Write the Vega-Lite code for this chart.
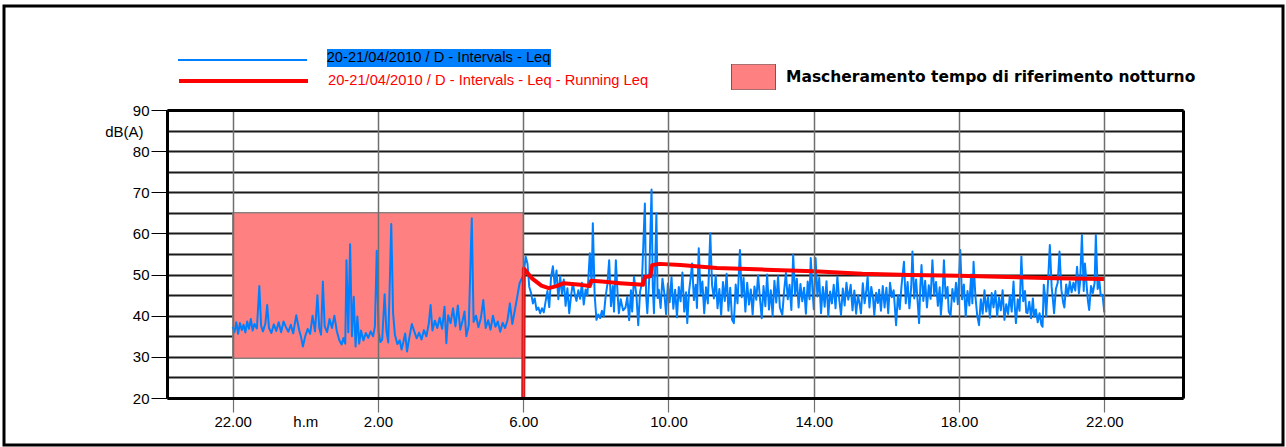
{
  "$schema": "https://vega.github.io/schema/vega-lite/v6.json",
  "width": 1279,
  "height": 439,
  "autosize": {"type": "none"},
  "padding": {"left": 4, "top": 6, "right": 3, "bottom": 2},
  "background": "white",
  "config": {
    "view": {"stroke": "black", "strokeWidth": 3, "fill": "white"},
    "font": "Liberation Sans",
    "axis": {"labelFont": "Liberation Sans", "labelFontSize": 15, "labelColor": "black", "labelFlush": false, "labelOverlap": false, "labelBound": false, "titleFont": "Liberation Sans"},
    "legend": {"padding": 0, "labelLimit": 0, "titleLimit": 0}
  },
  "datasets": {
    "mask": [{"zona": "Mascheramento tempo di riferimento notturno", "t0": 0, "t1": 480, "v0": 29.7, "v1": 65}],
    "pk": [{"k1": "b", "k2": "20-21/04/2010 / D - Intervals - Leq - Running Leq", "k3": "20-21/04/2010 / D - Intervals - Leq", "t": 0, "v": 20}],
    "run": [
      {"t": 480, "v": 20}, {"t": 481, "v": 51.5}, {"t": 495, "v": 49.0}, {"t": 510, "v": 47.3}, {"t": 522, "v": 46.7},
      {"t": 535, "v": 47.2}, {"t": 547, "v": 47.9}, {"t": 560, "v": 47.7}, {"t": 575, "v": 47.5}, {"t": 590, "v": 47.2},
      {"t": 592, "v": 48.5}, {"t": 610, "v": 48.3}, {"t": 640, "v": 47.9}, {"t": 678, "v": 47.5}, {"t": 681, "v": 49.4},
      {"t": 690, "v": 49.6}, {"t": 693, "v": 52.3}, {"t": 705, "v": 52.6}, {"t": 740, "v": 52.3}, {"t": 800, "v": 51.6},
      {"t": 880, "v": 51.2}, {"t": 960, "v": 50.8}, {"t": 1040, "v": 50.2}, {"t": 1120, "v": 49.9}, {"t": 1200, "v": 49.7},
      {"t": 1280, "v": 49.4}, {"t": 1360, "v": 49.1}, {"t": 1440, "v": 48.9}
    ],
    "leq": [
      {"t":0,"v":37.3},{"t":3,"v":36.0},{"t":6,"v":38.4},{"t":9,"v":35.6},{"t":12,"v":38.2},{"t":15,"v":36.5},{"t":18,"v":37.8},{"t":21,"v":35.9},{"t":24,"v":38.6},{"t":27,"v":36.8},
      {"t":30,"v":39.2},{"t":33,"v":36.4},{"t":36,"v":38.0},{"t":40,"v":36.9},{"t":44,"v":47.2},{"t":47,"v":37.5},{"t":50,"v":36.2},{"t":54,"v":38.1},{"t":57,"v":42.6},{"t":60,"v":37.0},
      {"t":64,"v":35.8},{"t":68,"v":37.9},{"t":72,"v":36.3},{"t":76,"v":38.4},{"t":80,"v":36.0},{"t":84,"v":38.6},{"t":88,"v":37.2},{"t":92,"v":36.1},{"t":96,"v":37.8},{"t":100,"v":35.7},
      {"t":105,"v":40.1},{"t":110,"v":36.4},{"t":113,"v":34.8},{"t":116,"v":32.5},{"t":120,"v":35.1},{"t":124,"v":36.8},{"t":128,"v":35.6},{"t":132,"v":40.0},{"t":136,"v":36.2},{"t":140,"v":45.0},
      {"t":143,"v":37.1},{"t":146,"v":35.4},{"t":149,"v":48.3},{"t":152,"v":37.4},{"t":156,"v":36.0},{"t":160,"v":39.2},{"t":164,"v":37.0},{"t":168,"v":40.0},{"t":172,"v":36.3},{"t":176,"v":34.1},
      {"t":180,"v":33.0},{"t":183,"v":34.6},{"t":186,"v":33.2},{"t":188,"v":53.5},{"t":191,"v":36.0},{"t":194,"v":57.4},{"t":197,"v":35.0},{"t":200,"v":44.6},{"t":203,"v":32.5},{"t":206,"v":39.8},
      {"t":209,"v":33.2},{"t":212,"v":36.4},{"t":216,"v":34.0},{"t":220,"v":35.8},{"t":224,"v":34.6},{"t":228,"v":36.2},{"t":232,"v":35.0},{"t":235,"v":37.4},{"t":238,"v":55.8},{"t":241,"v":36.1},
      {"t":244,"v":33.6},{"t":247,"v":34.2},{"t":251,"v":45.2},{"t":254,"v":36.3},{"t":257,"v":33.5},{"t":262,"v":62.3},{"t":265,"v":40.6},{"t":268,"v":35.4},{"t":272,"v":33.1},{"t":276,"v":34.0},
      {"t":279,"v":31.8},{"t":282,"v":33.6},{"t":285,"v":35.7},{"t":288,"v":31.3},{"t":292,"v":34.8},{"t":296,"v":38.0},{"t":300,"v":36.2},{"t":304,"v":34.5},{"t":308,"v":35.9},{"t":312,"v":34.2},
      {"t":316,"v":36.5},{"t":320,"v":35.0},{"t":324,"v":38.1},{"t":327,"v":42.6},{"t":330,"v":36.4},{"t":334,"v":38.8},{"t":338,"v":37.0},{"t":342,"v":39.5},{"t":346,"v":36.8},{"t":350,"v":42.2},
      {"t":353,"v":33.3},{"t":356,"v":40.1},{"t":360,"v":38.2},{"t":364,"v":41.8},{"t":368,"v":37.4},{"t":372,"v":42.5},{"t":376,"v":36.6},{"t":380,"v":38.9},{"t":383,"v":41.0},{"t":386,"v":35.0},
      {"t":390,"v":37.6},{"t":395,"v":63.7},{"t":398,"v":38.5},{"t":402,"v":40.0},{"t":406,"v":37.2},{"t":410,"v":39.4},{"t":414,"v":43.8},{"t":418,"v":37.0},{"t":422,"v":38.9},{"t":426,"v":36.6},
      {"t":430,"v":40.0},{"t":434,"v":37.3},{"t":438,"v":38.6},{"t":442,"v":36.1},{"t":446,"v":38.3},{"t":450,"v":37.0},{"t":454,"v":38.9},{"t":458,"v":43.0},{"t":462,"v":38.0},{"t":466,"v":41.2},
      {"t":470,"v":44.5},{"t":474,"v":47.9},{"t":479,"v":49.5},{"t":481,"v":50.3},{"t":484,"v":54.4},{"t":487,"v":52.7},{"t":490,"v":47.0},{"t":493,"v":45.5},{"t":496,"v":43.0},{"t":499,"v":44.2},
      {"t":502,"v":41.4},{"t":505,"v":42.0},{"t":508,"v":40.6},{"t":511,"v":41.8},{"t":514,"v":40.8},{"t":517,"v":43.5},{"t":520,"v":46.0},{"t":523,"v":42.1},{"t":526,"v":49.4},{"t":529,"v":52.0},
      {"t":532,"v":47.5},{"t":535,"v":51.0},{"t":538,"v":44.0},{"t":541,"v":49.6},{"t":544,"v":45.2},{"t":547,"v":48.8},{"t":550,"v":42.4},{"t":553,"v":46.7},{"t":556,"v":40.6},{"t":559,"v":44.8},
      {"t":562,"v":47.9},{"t":565,"v":45.3},{"t":568,"v":43.6},{"t":571,"v":46.2},{"t":574,"v":44.1},{"t":577,"v":48.0},{"t":580,"v":42.7},{"t":583,"v":46.4},{"t":586,"v":44.9},{"t":590,"v":55.2},
      {"t":593,"v":47.6},{"t":595,"v":62.5},{"t":598,"v":45.0},{"t":601,"v":39.0},{"t":604,"v":40.3},{"t":607,"v":39.4},{"t":610,"v":41.2},{"t":613,"v":39.8},{"t":616,"v":44.5},{"t":619,"v":47.6},
      {"t":622,"v":53.5},{"t":625,"v":42.3},{"t":628,"v":47.2},{"t":630,"v":41.0},{"t":633,"v":53.5},{"t":636,"v":45.1},{"t":638,"v":40.6},{"t":641,"v":44.0},{"t":645,"v":41.3},{"t":649,"v":42.0},
      {"t":652,"v":44.6},{"t":655,"v":38.9},{"t":658,"v":46.2},{"t":660,"v":41.0},{"t":663,"v":49.5},{"t":667,"v":45.0},{"t":670,"v":37.7},{"t":673,"v":45.8},{"t":676,"v":47.9},{"t":681,"v":67.3},
      {"t":683,"v":45.0},{"t":685,"v":40.6},{"t":688,"v":48.5},{"t":692,"v":70.7},{"t":694,"v":47.2},{"t":696,"v":40.6},{"t":698,"v":52.0},{"t":700,"v":64.9},{"t":702,"v":44.3},{"t":704,"v":46.3},
      {"t":707,"v":41.9},{"t":710,"v":49.0},{"t":713,"v":45.6},{"t":716,"v":40.4},{"t":719,"v":47.8},{"t":722,"v":43.3},{"t":725,"v":49.4},{"t":728,"v":41.7},{"t":731,"v":46.3},{"t":734,"v":39.6},
      {"t":737,"v":47.0},{"t":740,"v":43.5},{"t":743,"v":50.5},{"t":746,"v":41.0},{"t":749,"v":45.7},{"t":751,"v":38.2},{"t":754,"v":46.0},{"t":757,"v":49.6},{"t":759,"v":52.7},{"t":762,"v":43.8},
      {"t":765,"v":47.5},{"t":767,"v":41.9},{"t":770,"v":56.4},{"t":773,"v":45.2},{"t":776,"v":48.3},{"t":779,"v":40.6},{"t":782,"v":46.9},{"t":785,"v":43.0},{"t":789,"v":60.0},{"t":792,"v":47.4},
      {"t":795,"v":44.2},{"t":798,"v":49.8},{"t":801,"v":41.8},{"t":804,"v":46.5},{"t":807,"v":40.2},{"t":810,"v":48.2},{"t":813,"v":43.6},{"t":816,"v":50.2},{"t":819,"v":41.2},{"t":822,"v":46.8},
      {"t":825,"v":39.0},{"t":828,"v":38.2},{"t":831,"v":47.6},{"t":834,"v":43.0},{"t":838,"v":56.0},{"t":841,"v":44.5},{"t":844,"v":49.2},{"t":847,"v":41.0},{"t":850,"v":48.0},{"t":853,"v":42.7},
      {"t":856,"v":46.4},{"t":859,"v":40.3},{"t":862,"v":47.1},{"t":865,"v":43.9},{"t":868,"v":49.8},{"t":871,"v":44.4},{"t":874,"v":39.4},{"t":877,"v":47.2},{"t":880,"v":42.3},{"t":883,"v":50.0},
      {"t":886,"v":41.5},{"t":889,"v":46.2},{"t":892,"v":40.0},{"t":895,"v":48.5},{"t":898,"v":43.2},{"t":901,"v":49.6},{"t":904,"v":42.0},{"t":908,"v":40.2},{"t":911,"v":46.0},{"t":914,"v":50.4},
      {"t":917,"v":44.0},{"t":920,"v":47.5},{"t":923,"v":41.4},{"t":926,"v":54.8},{"t":929,"v":45.0},{"t":932,"v":49.0},{"t":935,"v":42.0},{"t":938,"v":47.7},{"t":941,"v":43.5},{"t":944,"v":46.8},
      {"t":947,"v":40.5},{"t":950,"v":48.3},{"t":953,"v":44.0},{"t":955,"v":54.0},{"t":958,"v":46.1},{"t":960,"v":41.6},{"t":963,"v":54.0},{"t":966,"v":44.7},{"t":969,"v":49.2},{"t":972,"v":40.6},
      {"t":975,"v":47.0},{"t":978,"v":42.2},{"t":981,"v":48.4},{"t":984,"v":40.0},{"t":987,"v":45.9},{"t":990,"v":43.0},{"t":993,"v":47.5},{"t":996,"v":41.8},{"t":999,"v":49.5},{"t":1002,"v":44.0},
      {"t":1005,"v":40.2},{"t":1008,"v":46.6},{"t":1011,"v":42.5},{"t":1014,"v":48.0},{"t":1017,"v":43.9},{"t":1021,"v":47.5},{"t":1024,"v":41.3},{"t":1027,"v":46.1},{"t":1030,"v":40.5},{"t":1033,"v":45.0},
      {"t":1036,"v":42.6},{"t":1038,"v":40.6},{"t":1041,"v":47.9},{"t":1044,"v":43.0},{"t":1047,"v":46.4},{"t":1049,"v":49.5},{"t":1052,"v":42.0},{"t":1055,"v":47.0},{"t":1058,"v":44.2},{"t":1060,"v":40.2},
      {"t":1063,"v":45.6},{"t":1066,"v":43.1},{"t":1068,"v":46.3},{"t":1071,"v":41.2},{"t":1074,"v":47.2},{"t":1077,"v":42.0},{"t":1080,"v":46.8},{"t":1083,"v":40.6},{"t":1086,"v":48.0},{"t":1089,"v":44.5},
      {"t":1092,"v":46.2},{"t":1096,"v":37.7},{"t":1099,"v":45.0},{"t":1102,"v":41.6},{"t":1105,"v":47.3},{"t":1109,"v":53.1},{"t":1112,"v":43.0},{"t":1115,"v":48.2},{"t":1118,"v":41.8},{"t":1121,"v":47.0},
      {"t":1123,"v":55.6},{"t":1126,"v":44.2},{"t":1129,"v":48.8},{"t":1132,"v":42.6},{"t":1134,"v":38.2},{"t":1136,"v":47.0},{"t":1138,"v":52.3},{"t":1141,"v":43.6},{"t":1144,"v":48.5},{"t":1147,"v":42.0},
      {"t":1150,"v":47.4},{"t":1153,"v":44.1},{"t":1156,"v":53.5},{"t":1159,"v":45.0},{"t":1162,"v":48.2},{"t":1165,"v":42.4},{"t":1168,"v":46.9},{"t":1170,"v":40.2},{"t":1173,"v":46.0},{"t":1175,"v":53.5},
      {"t":1178,"v":44.2},{"t":1181,"v":47.0},{"t":1183,"v":41.0},{"t":1186,"v":40.0},{"t":1189,"v":46.5},{"t":1192,"v":43.4},{"t":1195,"v":48.0},{"t":1198,"v":42.8},{"t":1202,"v":56.0},{"t":1205,"v":44.0},
      {"t":1208,"v":47.6},{"t":1211,"v":39.8},{"t":1214,"v":46.0},{"t":1217,"v":42.5},{"t":1220,"v":50.0},{"t":1222,"v":43.0},{"t":1224,"v":53.1},{"t":1227,"v":44.8},{"t":1230,"v":40.1},{"t":1233,"v":37.7},
      {"t":1236,"v":44.0},{"t":1239,"v":40.5},{"t":1242,"v":46.2},{"t":1245,"v":41.0},{"t":1248,"v":44.6},{"t":1251,"v":39.5},{"t":1254,"v":45.5},{"t":1257,"v":42.0},{"t":1260,"v":46.0},{"t":1263,"v":39.9},
      {"t":1266,"v":44.4},{"t":1269,"v":41.3},{"t":1272,"v":46.2},{"t":1275,"v":39.0},{"t":1278,"v":42.8},{"t":1281,"v":40.4},{"t":1284,"v":45.0},{"t":1287,"v":41.0},{"t":1290,"v":48.3},{"t":1292,"v":42.4},
      {"t":1294,"v":38.2},{"t":1297,"v":44.0},{"t":1300,"v":41.2},{"t":1303,"v":54.4},{"t":1306,"v":43.5},{"t":1309,"v":46.0},{"t":1311,"v":40.8},{"t":1313,"v":40.6},{"t":1316,"v":43.4},{"t":1319,"v":39.4},
      {"t":1322,"v":44.2},{"t":1324,"v":39.8},{"t":1327,"v":41.5},{"t":1330,"v":38.4},{"t":1333,"v":40.6},{"t":1336,"v":37.8},{"t":1338,"v":37.3},{"t":1340,"v":47.5},{"t":1342,"v":45.0},{"t":1344,"v":39.9},
      {"t":1347,"v":48.2},{"t":1350,"v":57.2},{"t":1353,"v":47.0},{"t":1355,"v":44.0},{"t":1357,"v":40.6},{"t":1360,"v":46.5},{"t":1363,"v":48.0},{"t":1366,"v":55.6},{"t":1369,"v":46.4},{"t":1372,"v":43.2},
      {"t":1374,"v":42.0},{"t":1377,"v":47.6},{"t":1380,"v":44.9},{"t":1383,"v":48.3},{"t":1386,"v":45.7},{"t":1389,"v":48.0},{"t":1392,"v":46.1},{"t":1395,"v":51.9},{"t":1398,"v":45.4},{"t":1400,"v":48.2},
      {"t":1403,"v":59.6},{"t":1406,"v":46.0},{"t":1408,"v":52.7},{"t":1411,"v":47.0},{"t":1413,"v":43.5},{"t":1415,"v":41.4},{"t":1418,"v":47.2},{"t":1421,"v":45.5},{"t":1424,"v":48.0},{"t":1426,"v":59.6},
      {"t":1429,"v":46.5},{"t":1432,"v":48.3},{"t":1434,"v":45.0},{"t":1437,"v":45.1},{"t":1440,"v":40.8}
    ]
  },
  "resolve": {
    "axis": {"x": "independent", "y": "independent"},
    "scale": {"shape": "independent"},
    "legend": {"shape": "independent"}
  },
  "layer": [
    {
      "data": {"name": "mask"},
      "mark": {"type": "rect", "stroke": "#7a7a7a", "strokeWidth": 1},
      "encoding": {
        "x": {
          "field": "t0", "type": "quantitative",
          "scale": {"domain": [-108.5, 1570], "range": [163, 1179], "nice": false, "zero": false},
          "axis": {
            "orient": "bottom", "offset": -47, "title": null,
            "values": [0, 240, 480, 720, 960, 1200, 1440],
            "labelExpr": "((22 + datum.value / 60) % 24) + '.00'",
            "grid": false,
            "ticks": true, "tickSize": 14, "tickColor": "#6f6f6f", "tickWidth": 1.2,
            "labelPadding": 2, "domainColor": "black", "domainWidth": 3, "zindex": 1
          }
        },
        "x2": {"field": "t1"},
        "y": {
          "field": "v0", "type": "quantitative",
          "scale": {"domain": [20, 90], "range": [392, 104], "nice": false, "zero": false},
          "axis": {
            "orient": "left", "offset": -163, "title": null,
            "values": [20, 25, 30, 35, 40, 45, 50, 55, 60, 65, 70, 75, 80, 85, 90],
            "labels": false, "ticks": false,
            "grid": true, "gridColor": "#1a1a1a", "gridWidth": 2,
            "domainColor": "black", "domainWidth": 3, "zindex": 0
          }
        },
        "y2": {"field": "v1"},
        "fill": {
          "field": "zona", "type": "nominal",
          "scale": {"range": ["#FF8080"]},
          "legend": {
            "orient": "none", "legendX": 727, "legendY": 58, "title": null, "padding": 0,
            "symbolType": "M-1,-0.59H1V0.59H-1Z", "symbolSize": 1936,
            "symbolStrokeColor": "#606060", "symbolStrokeWidth": 1,
            "labelFont": "DejaVu Sans", "labelFontWeight": "bold", "labelFontSize": 15.5, "labelColor": "black",
            "labelOffset": 10, "clipHeight": 26
          }
        }
      }
    },
    {
      "data": {"name": "leq"},
      "mark": {"type": "line", "stroke": "#0080FF", "strokeWidth": 2, "strokeJoin": "round"},
      "encoding": {
        "x": {"field": "t", "type": "quantitative",
          "axis": {"orient": "top", "offset": -104, "labels": false, "ticks": false,
            "values": [0, 240, 480, 720, 960, 1200, 1440],
            "grid": true, "gridColor": "#6f6f6f", "gridWidth": 1.5,
            "domainColor": "black", "domainWidth": 3, "title": null, "zindex": 1}},
        "y": {"field": "v", "type": "quantitative",
          "axis": {"orient": "right", "offset": -100, "labels": false, "ticks": false, "grid": false, "domainColor": "black", "domainWidth": 3, "title": null, "zindex": 1}}
      }
    },
    {
      "data": {"name": "run"},
      "mark": {"type": "line", "stroke": "#FF0000", "strokeWidth": 4, "strokeJoin": "round"},
      "encoding": {
        "x": {"field": "t", "type": "quantitative",
          "axis": {"orient": "bottom", "offset": -47, "title": null, "values": [120], "labelExpr": "'h.m'",
            "ticks": true, "tickSize": 14, "tickColor": "transparent", "grid": false, "domain": false, "labelPadding": 2}},
        "y": {"field": "v", "type": "quantitative",
          "axis": {"orient": "left", "offset": -163, "values": [20, 30, 40, 50, 60, 70, 80, 90],
            "grid": false, "domain": false, "ticks": true, "tickSize": 16, "tickColor": "black", "tickWidth": 1,
            "labelPadding": 2,
            "title": "dB(A)", "titleAngle": 0, "titleAlign": "right", "titleBaseline": "middle",
            "titleX": -24, "titleY": 125, "titleFontSize": 15, "titleFontWeight": "normal", "titleColor": "black"}}
      }
    },
    {
      "data": {"name": "pk"},
      "mark": {"type": "point", "filled": false, "stroke": "#0080FF", "strokeWidth": 2, "size": 0, "opacity": 0},
      "encoding": {
        "x": {"field": "t", "type": "quantitative", "axis": null},
        "y": {"field": "v", "type": "quantitative", "axis": null},
        "shape": {
          "field": "k1", "type": "nominal", "scale": {"range": ["stroke"]},
          "legend": {
            "orient": "none", "legendX": 173, "legendY": 44, "title": null, "padding": 0,
            "symbolSize": 16641, "symbolStrokeColor": "#0080FF", "symbolStrokeWidth": 2, "symbolOpacity": 1,
            "labelExpr": "''", "clipHeight": 20
          }
        }
      }
    },
    {
      "data": {"name": "pk"},
      "mark": {"type": "point", "filled": false, "stroke": "#FF0000", "strokeWidth": 4, "size": 0, "opacity": 0},
      "encoding": {
        "x": {"field": "t", "type": "quantitative", "axis": null},
        "y": {"field": "v", "type": "quantitative", "axis": null},
        "shape": {
          "field": "k2", "type": "nominal", "scale": {"range": ["stroke"]},
          "legend": {
            "orient": "none", "legendX": 173, "legendY": 65, "title": null, "padding": 0,
            "symbolSize": 16641, "symbolStrokeColor": "#FF0000", "symbolStrokeWidth": 4, "symbolOpacity": 1,
            "labelFont": "Liberation Sans", "labelFontSize": 14.7, "labelColor": "#FF0000", "labelOffset": 18,
            "clipHeight": 20
          }
        }
      }
    },
    {
      "data": {"name": "pk"},
      "mark": {"type": "point", "filled": false, "size": 0, "opacity": 0},
      "encoding": {
        "x": {"field": "t", "type": "quantitative", "axis": null},
        "y": {"field": "v", "type": "quantitative", "axis": null},
        "shape": {
          "field": "k3", "type": "nominal", "scale": {"range": ["circle"]},
          "legend": {
            "orient": "none", "legendX": 323, "legendY": 43, "title": null, "padding": 0,
            "fillColor": "#0080FF",
            "symbolSize": 1, "symbolOpacity": 0, "labelOffset": -15,
            "labelFont": "Liberation Sans", "labelFontSize": 14.7, "labelColor": "black",
            "clipHeight": 18
          }
        }
      }
    }
  ]
}
